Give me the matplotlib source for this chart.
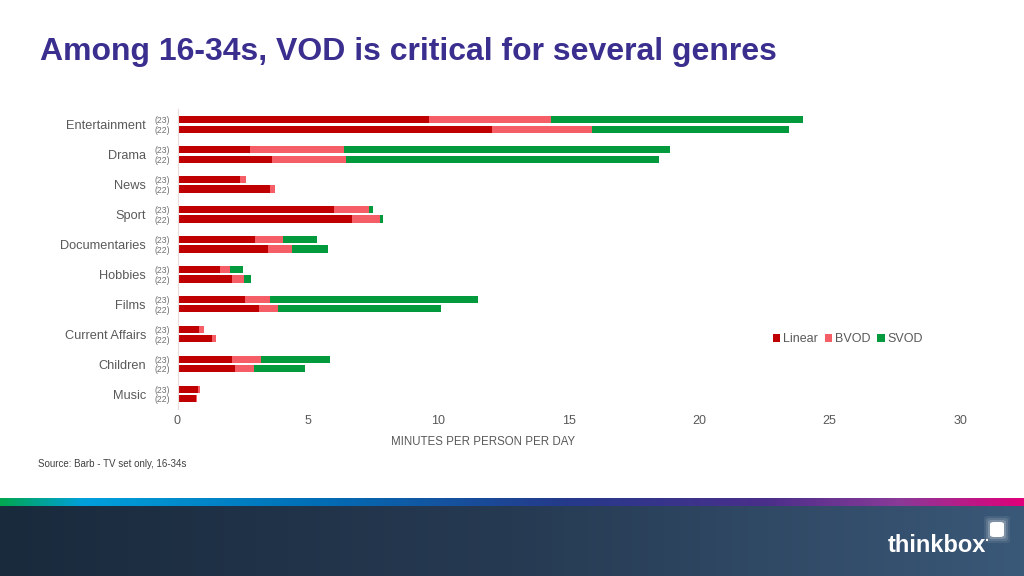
import numpy as np
import matplotlib
matplotlib.use("Agg")
import matplotlib.pyplot as plt
from matplotlib.patches import Rectangle, FancyBboxPatch
from matplotlib.colors import LinearSegmentedColormap

plt.rcParams['font.family'] = ['Liberation Sans', 'DejaVu Sans']

categories = ["Entertainment", "Drama", "News", "Sport", "Documentaries",
              "Hobbies", "Films", "Current Affairs", "Children", "Music"]
series_names = ["Linear", "BVOD", "SVOD"]
year_labels = ["(23)", "(22)"]

linear_23 = [9.64, 2.78, 2.41, 6.00, 2.97, 1.63, 2.59, 0.82, 2.09, 0.80]
bvod_23   = [4.68, 3.60, 0.23, 1.36, 1.08, 0.38, 0.97, 0.18, 1.10, 0.05]
svod_23   = [9.66, 12.50, 0.00, 0.12, 1.29, 0.50, 7.96, 0.00, 2.65, 0.00]

linear_22 = [12.06, 3.62, 3.55, 6.70, 3.47, 2.10, 3.13, 1.32, 2.20, 0.72]
bvod_22   = [3.83, 2.83, 0.19, 1.08, 0.91, 0.44, 0.71, 0.16, 0.73, 0.04]
svod_22   = [7.54, 12.01, 0.00, 0.11, 1.40, 0.28, 6.25, 0.00, 1.97, 0.00]

x_ticks = [0, 5, 10, 15, 20, 25, 30]

colors = ["#C00000", "#F55E67", "#03993D"]

W, H = 1024, 576
fig = plt.figure(figsize=(W / 100, H / 100), dpi=100)
fig.patch.set_facecolor("white")

# main axes
left, right = 177.5 / W, 960 / W
top_px, bot_px = 109.5, 409
ax = fig.add_axes([left, 1 - bot_px / H, right - left, (bot_px - top_px) / H])

n = len(categories)
pos = np.arange(n)
off = 0.157
bh = 0.24
groups = [(pos - off, linear_23, bvod_23, svod_23, True), (pos + off, linear_22, bvod_22, svod_22, False)]
for ypos, lin, bv, sv, lab in groups:
    lin = np.array(lin); bv = np.array(bv); sv = np.array(sv)
    ax.barh(ypos, lin, height=bh, color=colors[0], label=series_names[0] if lab else None)
    ax.barh(ypos, bv, left=lin, height=bh, color=colors[1], label=series_names[1] if lab else None)
    ax.barh(ypos, sv, left=lin + bv, height=bh, color=colors[2], label=series_names[2] if lab else None)

ax.set_ylim(n - 0.5, -0.5)
ax.set_xlim(0, 30)
ax.set_xticks(x_ticks)
ax.set_xticklabels([str(t) for t in x_ticks], fontsize=9, color="#595959")
ax.tick_params(axis="x", length=0, pad=4)
ax.set_yticks([])
for s in ["top", "right", "bottom"]:
    ax.spines[s].set_visible(False)
ax.spines["left"].set_color("#EADADA")
ax.spines["left"].set_linewidth(0.8)

# category labels and year labels
trans = ax.get_yaxis_transform()
for i, c in enumerate(categories):
    ax.text(-31.5 / (right - left) / W, i + 0.06, c, transform=trans, ha="right", va="center",
            fontsize=9.2, color="#595959")
    for j, yl in enumerate(year_labels):
        ax.text(-15.5 / (right - left) / W, i + (-off if j == 0 else off) + 0.04, yl, transform=trans,
                ha="center", va="center", fontsize=6.2, color="#707070")

fig.text(483 / W, 1 - 442 / H, "MINUTES PER PERSON PER DAY", ha="center", va="center",
         fontsize=8.3, color="#595959")

leg = fig.legend(loc="center", bbox_to_anchor=(848 / W, 1 - 339.5 / H), ncol=3, frameon=False,
                 fontsize=9, handlelength=0.6, handleheight=0.6, handletextpad=0.25,
                 columnspacing=0.5, labelcolor="#595959")

# title
fig.text(40 / W, 1 - 52 / H, "Among 16-34s, VOD is critical for several genres", ha="left",
         va="center", fontsize=23, fontweight="bold", color="#3A2E8E")

fig.text(38 / W, 1 - 464 / H, "Source: Barb - TV set only, 16-34s", ha="left", va="center",
         fontsize=7, color="#404040")

# bottom band
band = fig.add_axes([0, 0, 1, 70 / H])
band.axis("off")
cmap_band = LinearSegmentedColormap.from_list("band", ["#1A2A3D", "#263A52", "#3A5878"])
band.imshow(np.linspace(0, 1, 256)[None, :], aspect="auto", cmap=cmap_band, extent=[0, 1, 0, 1])
band.set_xlim(0, 1); band.set_ylim(0, 1)

strip = fig.add_axes([0, 1 - 506 / H, 1, 8 / H])
strip.axis("off")
cmap_strip = LinearSegmentedColormap.from_list(
    "strip", [(0, "#00A651"), (0.08, "#00A0DC"), (0.3, "#0070B8"), (0.55, "#253A8A"),
              (0.75, "#4A2F8A"), (0.88, "#8A3A98"), (1, "#E0007A")])
strip.imshow(np.linspace(0, 1, 512)[None, :], aspect="auto", cmap=cmap_strip, extent=[0, 1, 0, 1])
strip.set_xlim(0, 1); strip.set_ylim(0, 1)

# logo
fig.text(937 / W, 1 - 546 / H, "thinkbox", ha="center", va="center", fontsize=17,
         fontweight="bold", color="white")
for k, a in [(6, 0.08), (4, 0.12), (2, 0.2)]:
    fig.patches.append(FancyBboxPatch(((990 - k) / W, 1 - (537 + k) / H), (14 + 2 * k) / W,
                                      (15 + 2 * k) / H, boxstyle="round,pad=0,rounding_size=0.004",
                                      transform=fig.transFigure, facecolor="white", alpha=a,
                                      edgecolor="none"))
fig.patches.append(FancyBboxPatch((990 / W, 1 - 537 / H), 14 / W, 15 / H,
                                  boxstyle="round,pad=0,rounding_size=0.004",
                                  transform=fig.transFigure, facecolor="white", edgecolor="none"))
fig.patches.append(Rectangle((986 / W, 1 - 541 / H), 2 / W, 2 / H, transform=fig.transFigure,
                             facecolor="white", edgecolor="none"))

fig.savefig("out.png", dpi=100)
